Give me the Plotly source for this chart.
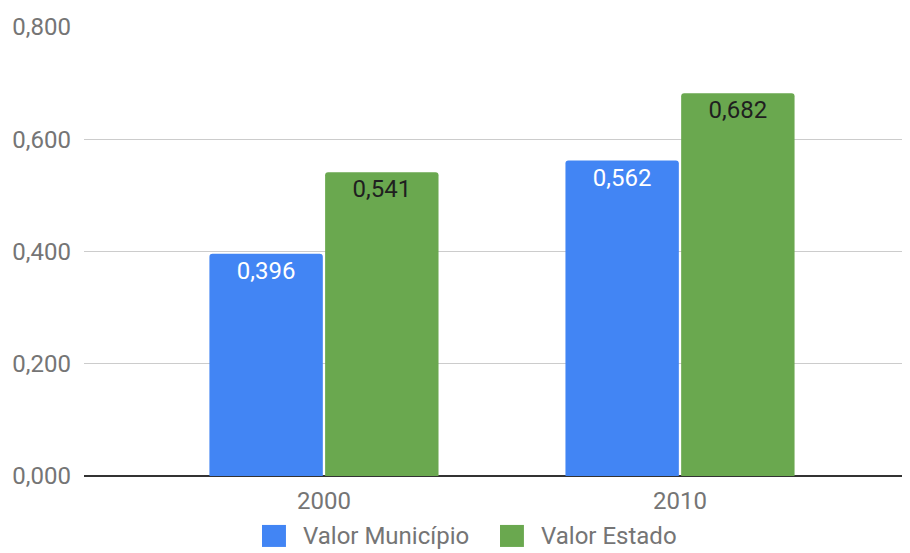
import plotly.graph_objects as go

# dados do gráfico
anos = ["2000", "2010"]
valor_municipio = [0.396, 0.562]
valor_estado = [0.541, 0.682]
y_ticks = [0.0, 0.2, 0.4, 0.6, 0.8]
nomes_series = ["Valor Município", "Valor Estado"]

AZUL = "#4285F4"
VERDE = "#6AA84F"
CINZA = "#757575"
FONTE = "Roboto"

fig = go.Figure()
fig.add_trace(go.Bar(
    x=anos, y=valor_municipio, name=nomes_series[0],
    marker=dict(color=AZUL, line=dict(width=0)),
    texttemplate="%{y:.3f}", textposition="inside", insidetextanchor="end",
    textfont=dict(family=FONTE, size=24, color="white"),
    showlegend=False,
))
fig.add_trace(go.Bar(
    x=anos, y=valor_estado, name=nomes_series[1],
    marker=dict(color=VERDE, line=dict(width=0)),
    texttemplate="%{y:.3f}", textposition="inside", insidetextanchor="end",
    textfont=dict(family=FONTE, size=24, color="#1f1f1f"),
    showlegend=False,
))

# legenda manual (quadrados grandes como no original)
legenda = [
    (nomes_series[0], AZUL, 0.2155, 0.2445),
    (nomes_series[1], VERDE, 0.5036, 0.5326),
]
for nome, cor, x0, x1 in legenda:
    fig.add_shape(type="rect", xref="paper", yref="paper",
                  x0=x0, x1=x1, y0=-0.158, y1=-0.109,
                  fillcolor=cor, line=dict(width=0))
    fig.add_annotation(text=nome, xref="paper", yref="paper",
                       x=x1 + 0.018, y=-0.1336, xanchor="left", yanchor="middle",
                       showarrow=False,
                       font=dict(family=FONTE, size=24, color=CINZA))

# a página tem 8px de margem no body, por isso a figura é menor
fig.update_layout(
    width=902, height=545,
    margin=dict(l=76, r=0, t=19, b=77),
    paper_bgcolor="white", plot_bgcolor="white",
    barmode="group", bargap=0.35, bargroupgap=0.02, barcornerradius=3,
    separators=",.",
    font=dict(family=FONTE, color=CINZA),
)
fig.update_xaxes(
    type="category", range=[-0.674, 1.646],
    showgrid=False, showline=False,
    tickfont=dict(family=FONTE, size=24, color=CINZA),
    ticks="outside", ticklen=3, tickcolor="rgba(0,0,0,0)",
)
fig.update_yaxes(
    range=[0, 0.8], tickvals=y_ticks, tickformat=".3f",
    showgrid=True, gridcolor="#cccccc", gridwidth=1,
    zeroline=True, zerolinecolor="#333333", zerolinewidth=1.5,
    showline=False,
    tickfont=dict(family=FONTE, size=24, color=CINZA),
    ticklabelstandoff=12,
)

fig.write_html("out.html")
